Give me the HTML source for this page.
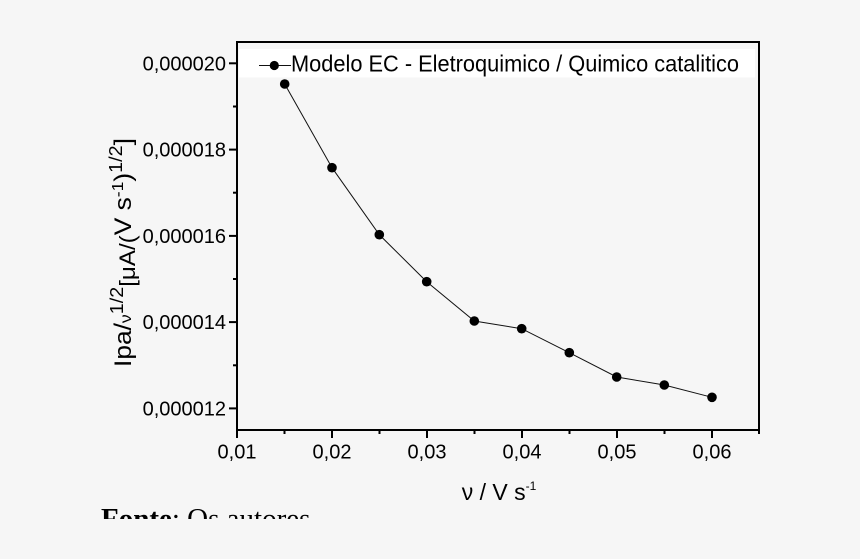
<!DOCTYPE html>
<html>
<head>
<meta charset="utf-8">
<style>
  html, body { margin:0; padding:0; background:#f6f6f6; }
  svg { display:block; }
  text { font-family: "Liberation Sans", Arial, sans-serif; fill:#000; }
</style>
</head>
<body>
<svg width="860" height="559" viewBox="0 0 860 559" xmlns="http://www.w3.org/2000/svg">
  <defs>
    <clipPath id="clipFonte"><rect x="0" y="0" width="860" height="519"/></clipPath>
  </defs>
  <rect x="0" y="0" width="860" height="559" fill="#f6f6f6"/>

  <!-- Legend background -->
  <rect x="239" y="49" width="516" height="28.5" fill="#ffffff"/>

  <!-- Axes frame -->
  <rect x="237" y="42" width="522" height="388" fill="none" stroke="#000" stroke-width="2"/>

  <!-- Y ticks -->
  <g stroke="#000" stroke-width="2">
    <line x1="229" y1="408.4" x2="237" y2="408.4"/>
    <line x1="229" y1="322.1" x2="237" y2="322.1"/>
    <line x1="229" y1="235.9" x2="237" y2="235.9"/>
    <line x1="229" y1="149.6" x2="237" y2="149.6"/>
    <line x1="229" y1="63.3" x2="237" y2="63.3"/>
    <line x1="233" y1="365.3" x2="237" y2="365.3"/>
    <line x1="233" y1="279.0" x2="237" y2="279.0"/>
    <line x1="233" y1="192.7" x2="237" y2="192.7"/>
    <line x1="233" y1="106.5" x2="237" y2="106.5"/>
  </g>

  <!-- X ticks -->
  <g stroke="#000" stroke-width="2">
    <line x1="237" y1="430" x2="237" y2="438"/>
    <line x1="332" y1="430" x2="332" y2="438"/>
    <line x1="427" y1="430" x2="427" y2="438"/>
    <line x1="522" y1="430" x2="522" y2="438"/>
    <line x1="617" y1="430" x2="617" y2="438"/>
    <line x1="712" y1="430" x2="712" y2="438"/>
    <line x1="284.5" y1="430" x2="284.5" y2="434"/>
    <line x1="379.5" y1="430" x2="379.5" y2="434"/>
    <line x1="474.5" y1="430" x2="474.5" y2="434"/>
    <line x1="569.5" y1="430" x2="569.5" y2="434"/>
    <line x1="664.5" y1="430" x2="664.5" y2="434"/>
    <line x1="759" y1="430" x2="759" y2="434"/>
  </g>

  <!-- Y tick labels -->
  <g font-size="20" text-anchor="end">
    <text x="226" y="415.4">0,000012</text>
    <text x="226" y="329.1">0,000014</text>
    <text x="226" y="242.9">0,000016</text>
    <text x="226" y="156.6">0,000018</text>
    <text x="226" y="70.3">0,000020</text>
  </g>

  <!-- X tick labels -->
  <g font-size="20" text-anchor="middle">
    <text x="237" y="458.5">0,01</text>
    <text x="332" y="458.5">0,02</text>
    <text x="427" y="458.5">0,03</text>
    <text x="522" y="458.5">0,04</text>
    <text x="617" y="458.5">0,05</text>
    <text x="712" y="458.5">0,06</text>
  </g>

  <!-- Data series -->
  <polyline fill="none" stroke="#111" stroke-width="1"
    points="284.7,84 332,167.7 379.3,234.7 426.7,281.7 474.3,321 521.7,328.7 569.3,352.7 616.7,377 664.3,385 712,397.3"/>
  <g fill="#000">
    <circle cx="284.7" cy="84" r="4.8"/>
    <circle cx="332" cy="167.7" r="4.8"/>
    <circle cx="379.3" cy="234.7" r="4.8"/>
    <circle cx="426.7" cy="281.7" r="4.8"/>
    <circle cx="474.3" cy="321" r="4.8"/>
    <circle cx="521.7" cy="328.7" r="4.8"/>
    <circle cx="569.3" cy="352.7" r="4.8"/>
    <circle cx="616.7" cy="377" r="4.8"/>
    <circle cx="664.3" cy="385" r="4.8"/>
    <circle cx="712" cy="397.3" r="4.8"/>
  </g>

  <!-- Legend -->
  <line x1="259" y1="65.5" x2="291" y2="65.5" stroke="#111" stroke-width="1"/>
  <circle cx="274.3" cy="65.5" r="4.6" fill="#000"/>
  <text x="291" y="71.5" font-size="23" textLength="448" lengthAdjust="spacingAndGlyphs">Modelo EC - Eletroquimico / Quimico catalitico</text>

  <!-- X axis title -->
  <text x="499" y="500" font-size="23" text-anchor="middle">ν / V s<tspan font-size="12" dy="-10">-1</tspan></text>

  <!-- Y axis title -->
  <text transform="translate(131,367) rotate(-90)" x="0" y="0" textLength="229" lengthAdjust="spacingAndGlyphs"><tspan font-size="24">Ipa/</tspan><tspan font-size="16">ν</tspan><tspan font-size="18" dy="-8">1/2</tspan><tspan font-size="22" dy="12">[μA/(</tspan><tspan font-size="24" dy="-4">V s</tspan><tspan font-size="16" dy="-8">-1</tspan><tspan font-size="24" dy="8">)</tspan><tspan font-size="18" dy="-9">1/2</tspan><tspan font-size="24" dy="9">]</tspan></text>

  <!-- Caption (clipped) -->
  <g clip-path="url(#clipFonte)">
    <text x="101" y="528" font-size="29" style="font-family:'Liberation Serif', 'Times New Roman', serif;"><tspan font-weight="bold">Fonte</tspan>: Os autores</text>
  </g>
</svg>
</body>
</html>
